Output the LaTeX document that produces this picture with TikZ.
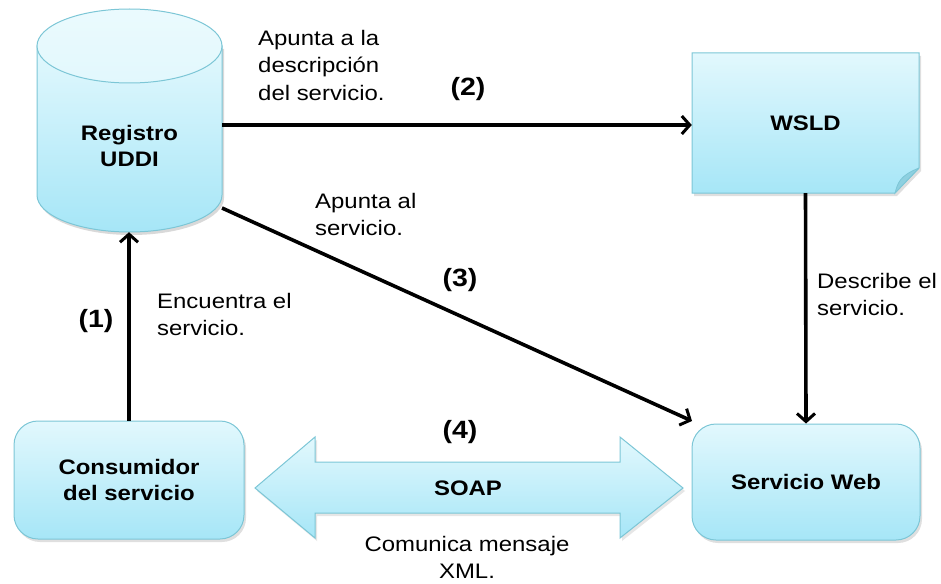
\documentclass[tikz,border=0pt]{standalone}
\usepackage{fontspec}
\setmainfont{Liberation Sans}[FakeStretch=1.14]
\usetikzlibrary{shadows,calc,arrows.meta}
\definecolor{ctop}{HTML}{E2F8FD}
\definecolor{cbot}{HTML}{A6E6F7}
\definecolor{cline}{HTML}{7CC6D6}
\definecolor{cfold}{HTML}{8ED0E0}
\tikzset{
  boxshade/.style={top color=ctop, bottom color=cbot, draw=cline, line width=1pt},
  bold/.style={font=\fontsize{21}{26}\selectfont\bfseries},
  roundbox/.style={boxshade, rounded corners=24pt, minimum width=230pt, minimum height=118pt,
     drop shadow={opacity=0.25, shadow xshift=2pt, shadow yshift=-3pt}, bold, align=center},
  lbl/.style={font=\fontsize{21}{27.5}\selectfont, align=left, inner sep=0pt},
  num/.style={font=\fontsize{25}{28}\selectfont\bfseries, inner sep=0pt},
  conn/.style={line width=3.6pt, -{Straight Barb[length=8pt,width=18pt,line width=3pt]}},
  hidden/.style={inner sep=0pt, minimum width=185pt, minimum height=224pt}
}
\begin{document}
\begin{tikzpicture}[x=1pt,y=-1pt]
\useasboundingbox (0,0) rectangle (941,583);
% cylinder
\fill[black,opacity=0.15] (39,49) -- (39,198) arc[start angle=180,end angle=360,x radius=92.5pt,y radius=37pt] -- (224,49) -- cycle;
\path[boxshade] (37,46) -- (37,195) arc[start angle=180,end angle=360,x radius=92.5pt,y radius=37pt] -- (222,46) -- cycle;
\path[draw=cline, line width=1pt, top color=ctop!70!white, bottom color=ctop] (129.5,46) ellipse[x radius=92.5pt, y radius=37pt];
\node[hidden] (reg) at (129.5,120) {};
\node[bold, align=center] (regt) at (129.5,146) {Registro\\UDDI};
% WSLD note
\path[boxshade, drop shadow={opacity=0.25, shadow xshift=2pt, shadow yshift=-3pt}] (692,53) -- (919,53) -- (919,168) -- (895,193) -- (692,193) -- cycle;
\path[fill=cfold, draw=cline, line width=0.8pt] (919,168) -- (895,193) .. controls (898,183) and (899,176) .. (919,168);
\node[inner sep=0pt, minimum width=227pt, minimum height=140pt, bold] (wsld) at (805.5,123) {WSLD};
% boxes
\node[roundbox] (cons) at (129,480) {Consumidor\\del servicio};
\node[roundbox, minimum width=228pt, minimum height=116pt] (ws) at (806,482) {Servicio Web};
% double arrow
\path[boxshade, drop shadow={opacity=0.2, shadow xshift=2pt, shadow yshift=-3pt}]
  (255,488) -- (315,437) -- (315,462) -- (620,462) -- (620,437) -- (683,488) -- (620,538) -- (620,513) -- (315,513) -- (315,538) -- cycle;
\node[bold] (soap) at (468,488) {SOAP};
% connectors
\draw[conn] (cons.north) -- (cons.north |- reg.south);
\draw[conn] (reg.east |- 0,125) -- (wsld.west |- 0,125);
\coordinate (r3) at (222,208);
\coordinate (w3) at (692,421);
\draw[conn] (r3) -- (w3);
\draw[conn] (wsld.south) -- (ws.north);
% labels
\node[num] (n1) at (96,321) {(1)};
\node[num] (n2) at (468,89) {(2)};
\node[num] (n3) at (460,280) {(3)};
\node[num] (n4) at (460,432) {(4)};
\node[lbl, anchor=north west] (l2) at (258,30) {Apunta a la\\descripción\\del servicio.};
\node[lbl, anchor=north west] (l3) at (315,193) {Apunta al\\servicio.};
\node[lbl, anchor=north west] (l1) at (157,293) {Encuentra el\\servicio.};
\node[lbl, anchor=north west] (ld) at (817,273) {Describe el\\servicio.};
\node[lbl, align=center, anchor=north] (lc) at (467,536) {Comunica mensaje\\XML.};
\end{tikzpicture}
\end{document}
